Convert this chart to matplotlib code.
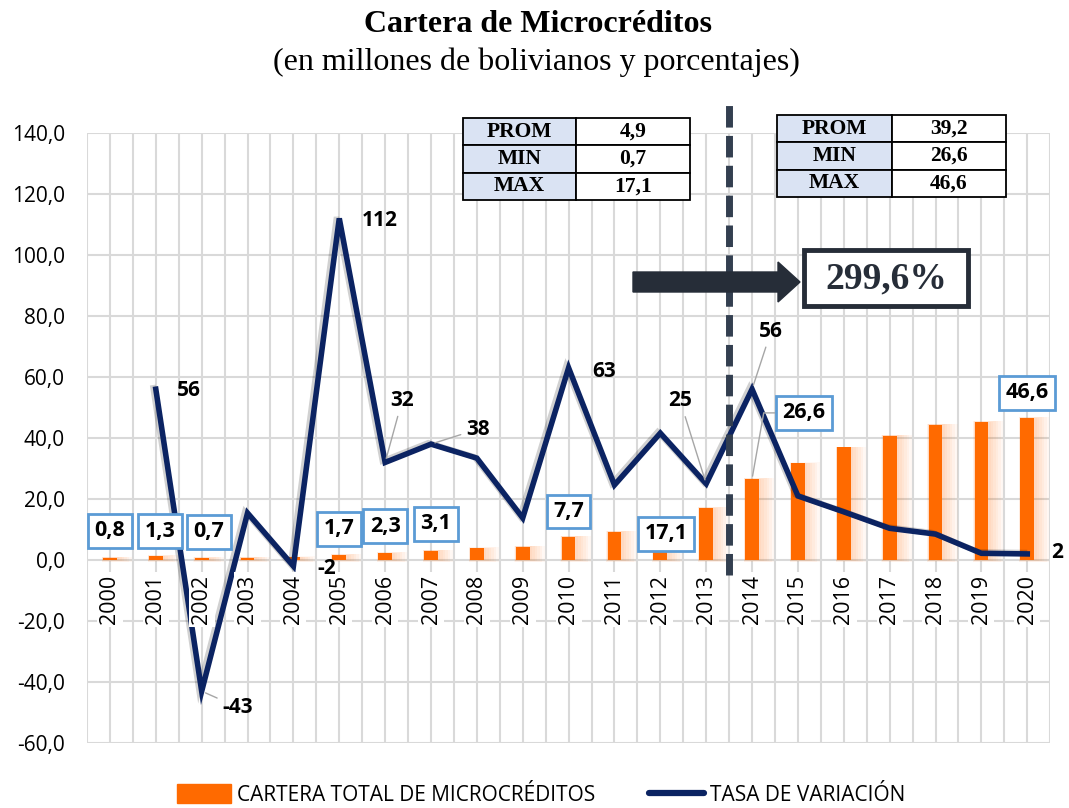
import matplotlib
matplotlib.use('Agg')
import matplotlib.pyplot as plt
import matplotlib.patheffects as pe
from matplotlib.patches import Patch, Rectangle, FancyArrow
from matplotlib.lines import Line2D
import numpy as np

plt.rcParams['font.family'] = 'Open Sans'

# datos
years = [str(y) for y in range(2000, 2021)]
cartera = [0.8, 1.3, 0.7, 0.8, 0.9, 1.7, 2.3, 3.1, 3.9, 4.4, 7.7, 9.3, 13.5, 17.1,
           26.6, 31.7, 36.9, 40.8, 44.4, 45.3, 46.6]
tasa = [np.nan, 56, -43, 15.4, -2, 112, 32, 38, 33.4, 13.8, 63, 24.6, 41.6, 25,
        56, 21, 15.8, 10.4, 8.5, 2.2, 2]
stats_names = ['PROM', 'MIN', 'MAX']
stats_before = ['4,9', '0,7', '17,1']
stats_after = ['39,2', '26,6', '46,6']
crecimiento = '299,6%'

# etiquetas: indice -> desplazamiento en pixeles (dx, dy)
bar_lbl_off = {0: (0, 27), 1: (4, 25), 2: (7, 26), 5: (0, 26), 6: (0, 27), 7: (5, 27),
               10: (0, 25), 13: (-40, -26), 14: (52, 66), 20: (0, 25)}
tasa_lbl_off = {1: (33, -1), 2: (36, -16), 4: (33, -2), 5: (40, -2), 6: (17, 62),
                7: (47, 15), 10: (35, -4), 13: (-26, 83), 14: (19, 58), 20: (30, 1)}
tasa_leader = [2, 6, 7, 13, 14]

ORANGE = '#ff6a00'
NAVY = '#0b2362'
DARK = '#262d38'

fig = plt.figure(figsize=(10.69, 8.08), dpi=100)
ax = fig.add_axes([0.0814, 0.0804, 0.901, 0.755])

x = np.arange(len(years))

# brillo suave detras de las barras
for k in range(1, 7):
    ax.bar(x + 0.025 * k, np.array(cartera) + 0.15 * k, width=0.3 + 0.06 * k,
           bottom=-0.1 * k, color=ORANGE, alpha=0.045, linewidth=0, zorder=2)
ax.bar(x, cartera, width=0.3, color=ORANGE, zorder=2.5)

ax.plot(x, tasa, color=NAVY, lw=4, solid_joinstyle='miter', zorder=3,
        path_effects=[pe.SimpleLineShadow(offset=(-2, 1), shadow_color='black', alpha=0.18),
                      pe.Normal()])

ax.set_xlim(-0.5, 20.5)
ax.set_ylim(-60, 140)
ax.set_yticks(range(-60, 141, 20))
ax.set_yticklabels([f'{v:.1f}'.replace('.', ',') for v in range(-60, 141, 20)])
ax.set_xticks(np.arange(-0.5, 20.6, 0.5))
ax.set_xticklabels([])
ax.tick_params(length=0, labelsize=15, pad=16)
ax.grid(True, color='#d9d9d9', lw=1.5)
ax.set_axisbelow(True)
for s in ax.spines.values():
    s.set_visible(False)

# anios como etiquetas verticales sobre fondo blanco
for i, yr in enumerate(years):
    ax.text(i, -4.9, yr, rotation=90, ha='center', va='top', fontsize=15.5, zorder=4,
            bbox=dict(boxstyle='square,pad=0.12', fc='white', ec='none'))

# etiquetas de barras
for i, (dx, dy) in bar_lbl_off.items():
    kw = {}
    if i == 14:
        kw['arrowprops'] = dict(arrowstyle='-', color='#a6a6a6', lw=1,
                                connectionstyle='angle,angleA=0,angleB=80,rad=0',
                                shrinkA=0, shrinkB=2)
    ax.annotate(f'{cartera[i]:.1f}'.replace('.', ','), xy=(i, cartera[i]),
                xytext=(dx, dy), textcoords='offset pixels', ha='center', va='center',
                fontsize=15.5, fontweight='bold', zorder=6,
                bbox=dict(boxstyle='square,pad=0.3', fc='white', ec='#5b9bd5', lw=2), **kw)

# etiquetas de la tasa
for i, (dx, dy) in tasa_lbl_off.items():
    kw = {}
    if i in tasa_leader:
        kw['arrowprops'] = dict(arrowstyle='-', color='#a6a6a6', lw=1, shrinkA=2, shrinkB=3)
    ax.annotate(f'{tasa[i]:.0f}', xy=(i, tasa[i]), xytext=(dx, dy),
                textcoords='offset pixels', ha='center', va='center',
                fontsize=15, fontweight='bold', zorder=6, **kw)

# linea divisoria discontinua
ax.plot([13.5, 13.5], [-4.9, 149.5], color='#333f50', lw=5, dashes=(3.1, 1.2),
        clip_on=False, zorder=5)

# tablas de resumen
def draw_table(rect, values):
    tax = fig.add_axes(rect)
    tax.axis('off')
    rows = [[n, v] for n, v in zip(stats_names, values)]
    tb = tax.table(cellText=rows, bbox=[0, 0, 1, 1], cellLoc='center')
    tb.auto_set_font_size(False)
    for (r, c), cell in tb.get_celld().items():
        cell.set_edgecolor('black')
        cell.set_linewidth(1.3)
        cell.set_facecolor('#dae3f3' if c == 0 else 'white')
        t = cell.get_text()
        t.set_fontfamily('Liberation Serif')
        t.set_fontweight('bold')
        t.set_fontsize(15.5)

draw_table([0.433, 0.7525, 0.2124, 0.1015], stats_before)
draw_table([0.7269, 0.7562, 0.2142, 0.1015], stats_after)

# flecha y recuadro del crecimiento
fig.patches.append(FancyArrow(6.33, 5.26, 1.67, 0, width=0.2, head_width=0.4,
                              head_length=0.22, length_includes_head=True,
                              color=DARK, transform=fig.dpi_scale_trans, figure=fig))
fig.patches.append(Rectangle((8.04, 5.02), 1.64, 0.56, fc='white', ec=DARK, lw=3.5,
                             transform=fig.dpi_scale_trans, figure=fig))
fig.text(8.86, 5.29, crecimiento, transform=fig.dpi_scale_trans, ha='center',
         va='center', fontsize=27, fontweight='bold', family='Liberation Serif', color=DARK)

# titulos
fig.text(0.503, 1 - 24 / 808, 'Cartera de Microcréditos', ha='center', va='center',
         fontsize=23, fontweight='bold', family='Liberation Serif')
fig.text(0.502, 1 - 62 / 808, '(en millones de bolivianos y porcentajes)', ha='center',
         va='center', fontsize=23, family='Liberation Serif')

handles = [Patch(color=ORANGE), Line2D([], [], color=NAVY, lw=4.5, solid_capstyle='round')]
fig.legend(handles, ['CARTERA TOTAL DE MICROCRÉDITOS', 'TASA DE VARIACIÓN'],
           loc='center', bbox_to_anchor=(0.506, 0.016), ncol=2, frameon=False,
           fontsize=15, columnspacing=2.6, handlelength=2.6, handleheight=1.0,
           handletextpad=0.3)

fig.savefig('out.png', dpi=100)
